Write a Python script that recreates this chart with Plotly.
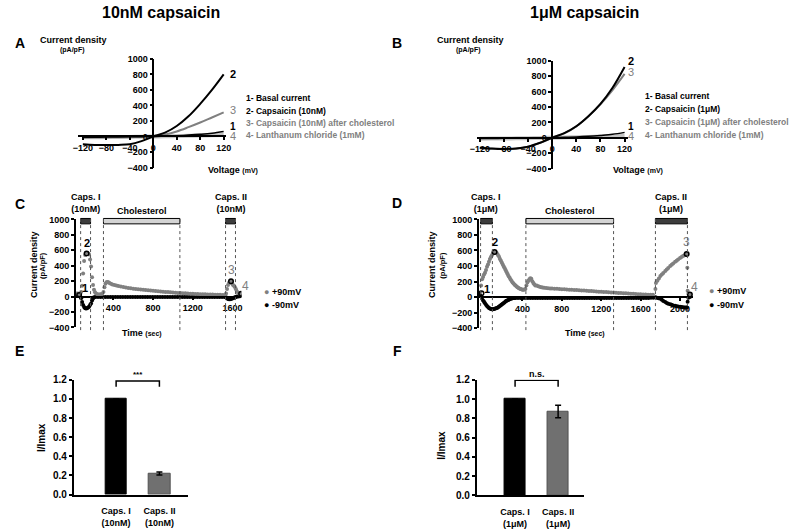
import plotly.graph_objects as go

W, H = 800, 529
FONT = "Liberation Sans, Arial, sans-serif"
GRAY = "#808080"

# ---------------- DATA ----------------
# I-V curves (panel A: 10 nM, panel B: 1 uM)
iv_voltage = [-120, -100, -80, -60, -40, -20, 0, 20, 40, 60, 80, 100, 120]
a_basal = [-10, -9, -8, -6, -4, -2, 0, 5, 10, 18, 28, 42, 65]
a_caps = [-100, -108, -110, -108, -100, -60, 0, 50, 135, 260, 420, 600, 800]
a_caps_chol = [-15, -14, -12, -10, -8, -5, 0, 25, 65, 120, 180, 245, 310]
a_lanth = [-10, -9, -8, -7, -5, -3, 0, 3, 6, 9, 12, 16, 20]

b_basal = [-10, -9, -8, -7, -5, -3, 0, 5, 10, 18, 30, 45, 70]
b_caps = [-130, -140, -145, -140, -115, -65, 0, 60, 150, 280, 440, 650, 920]
b_caps_chol = [-135, -143, -148, -142, -118, -66, 0, 58, 148, 278, 435, 620, 830]
b_lanth = [-12, -11, -10, -8, -6, -3, 0, 3, 7, 11, 16, 22, 30]

a_legend = ["1- Basal current", "2- Capsaicin (10nM)",
            "3- Capsaicin (10nM) after cholesterol", "4- Lanthanum chloride (1mM)"]
b_legend = ["1- Basal current", "2- Capsaicin (1\u03bcM)",
            "3- Capsaicin (1\u03bcM) after cholesterol", "4- Lanthanum chloride (1mM)"]

# Time courses (panel C: 10 nM)
c_pos_t = [30, 45, 60, 75, 85, 95, 105, 115, 125, 135, 145, 155, 165, 175, 185, 195, 205, 215, 225,
           240, 255, 270, 285,
           300, 310, 320, 330, 340, 350, 360,
           375, 390, 410, 430, 450,
           475, 500, 525, 550, 575, 600, 625, 650, 675, 700, 725, 750, 775, 800, 825, 850, 875, 900,
           925, 950, 975, 1000, 1025, 1050, 1075, 1100, 1125, 1150, 1175, 1200, 1225, 1250, 1275,
           1300, 1325, 1350, 1375, 1400, 1425, 1450, 1475, 1500,
           1520,
           1535, 1545, 1555, 1565, 1575, 1585, 1595, 1605, 1615, 1625, 1635, 1645,
           1660, 1675, 1690]
c_pos_v = [40, 40, 35, 60, 140, 300, 460, 540, 560, 565, 560, 545, 480, 390, 250, 150, 90, 55, 40,
           30, 28, 30, 35,
           60, 120, 165, 185, 190, 185, 175,
           165, 158, 150, 143, 137,
           130, 124, 118, 112, 107, 102, 98, 95, 91, 88, 85, 81, 78, 75, 72, 69, 66, 63,
           60, 58, 56, 54, 51, 48, 46, 44, 42, 40, 38, 36, 34, 33, 31,
           30, 29, 28, 27, 26, 25, 24, 23, 22,
           22,
           40, 100, 150, 180, 195, 200, 170, 150, 140, 120, 95, 65,
           45, 38, 35]
c_neg_t = [30, 45, 60, 75, 85, 95, 105, 115, 125, 135, 145, 155, 165, 175, 185, 195, 205, 220,
           245, 270, 295, 320, 345, 370, 395, 420, 445, 470,
           495, 520, 545, 570, 595, 620, 645, 670, 695, 720,
           745, 770, 795, 820, 845, 870, 895, 920, 945, 970,
           995, 1020, 1045, 1070, 1095, 1120, 1145, 1170, 1195, 1220,
           1245, 1270, 1295, 1320, 1345, 1370, 1395, 1420, 1445, 1470,
           1495, 1520,
           1535, 1545, 1555, 1565, 1575, 1585, 1595, 1605, 1615, 1625, 1635, 1645,
           1660, 1675, 1690]
c_neg_v = [30, 20, 10, -20, -70, -110, -135, -150, -155, -150, -140, -130, -110, -90, -50, -25, -10, -5,
           -5, -5, -6, -5, -5, -4, -5, -5, -6, -5,
           -5, -5, -4, -5, -5, -5, -6, -5, -5, -5,
           -4, -5, -5, -5, -5, -6, -5, -5, -4, -5,
           -5, -5, -5, -6, -5, -5, -4, -5, -5, -5,
           -5, -6, -5, -5, -4, -5, -5, -5, -5, -6,
           -5, -5,
           -10, -20, -30, -35, -35, -30, -25, -20, -15, -10, -5, 0,
           0, 5, 10]
c_marks_t = [55, 130, 1585, 1687]
c_marks_v = [20, 560, 200, 36]
c_caps1 = [70, 170]
c_chol = [300, 1070]
c_caps2 = [1530, 1630]

# Time courses (panel D: 1 uM)
d_pos_t = [-30, -20, -10, 0, 10, 20, 30, 40, 50, 60, 70, 80, 90, 100, 110, 120, 130, 140, 150, 160,
           170, 180, 190, 200, 210, 220, 230, 240, 250, 260, 270, 280, 290, 300, 310, 320, 330, 340,
           350, 360, 370, 380, 390, 400, 410, 420, 430, 440, 450, 460, 470, 480, 490, 500, 510, 520, 530,
           545, 560, 575, 590, 605, 620, 640, 660, 680, 700,
           725, 750, 775, 800, 825, 850, 875, 900, 925, 950, 975, 1000, 1025, 1050, 1075, 1100, 1125,
           1150, 1175, 1200, 1225, 1250, 1275, 1300, 1325, 1350, 1375, 1400, 1425, 1450, 1475, 1500,
           1525, 1550, 1575, 1600, 1625, 1650, 1675, 1700, 1725,
           1750, 1755, 1770, 1785, 1800, 1815, 1830, 1850, 1865, 1880, 1900, 1915, 1930, 1950, 1965,
           1980, 2000, 2015, 2030, 2045, 2060, 2067, 2074, 2077, 2085, 2100]
d_pos_v = [60, 150, 230, 260, 290, 315, 350, 390, 420, 455, 490, 515, 540, 560, 575, 580, 578, 565, 546, 525,
           495, 470, 445, 420, 395, 370, 345, 320, 294, 270, 248, 228, 208, 189, 174, 160, 148, 136,
           126, 118, 110, 104, 100, 96, 95, 98, 105, 150, 189, 210, 230, 243, 235, 205, 180, 165, 150,
           150, 140, 133, 128, 124, 120, 117, 114, 112, 110,
           108, 106, 104, 102, 100, 98, 96, 94, 92, 90, 88, 86, 84, 82, 79, 77, 75,
           72, 70, 68, 66, 64, 62, 60, 58, 56, 54, 52, 50, 48, 46, 44,
           42, 40, 38, 36, 34, 32, 31, 30, 29,
           105, 180, 209, 240, 273, 290, 310, 336, 355, 375, 399, 415, 432, 454, 468,
           485, 504, 515, 528, 540, 550, 555, 378, 83, 40, 33]
d_neg_t = [-30, -20, -10, 0, 10, 20, 30, 40, 50, 60, 70, 80, 90, 100, 110, 120, 130, 140, 150, 160,
           170, 180, 190, 200, 210, 220, 230, 240, 250, 260, 270, 280, 290, 300, 310, 320, 330,
           355, 380, 405, 430, 455, 480, 505, 530, 555, 580, 605, 630, 655, 680, 705, 730, 755, 780,
           805, 830, 855, 880, 905, 930, 955, 980, 1005, 1030, 1055, 1080, 1105, 1130, 1155, 1180,
           1205, 1230, 1255, 1280, 1305, 1330, 1355, 1380, 1405, 1430, 1455, 1480, 1505, 1530, 1555,
           1580, 1605, 1630, 1655, 1680, 1705, 1730,
           1750, 1765, 1780, 1800, 1815, 1830, 1850, 1865, 1880, 1900, 1915, 1930, 1950, 1965, 1980,
           2000, 2015, 2030, 2045, 2060, 2070, 2077, 2085, 2100]
d_neg_v = [20, 10, -10, -43, -60, -80, -100, -115, -128, -140, -148, -153, -156, -156, -154, -150, -145, -140, -134, -125,
           -115, -105, -95, -85, -75, -65, -55, -47, -40, -33, -27, -22, -18, -15, -13, -12, -11,
           -12, -12, -13, -12, -12, -13, -12, -12, -13, -12, -12, -12, -13, -12, -12, -13, -12, -12,
           -12, -13, -12, -12, -12, -13, -12, -12, -12, -13, -12, -12, -12, -13, -12, -12,
           -12, -13, -12, -12, -12, -12, -13, -12, -12, -12, -12, -13, -12, -12, -12,
           -12, -12, -12, -11, -11, -10, -10,
           -3, -10, -15, -21, -35, -50, -63, -75, -85, -93, -100, -107, -113, -118, -122,
           -126, -129, -131, -133, -134, -135, -60, -10, 0]
d_marks_t = [-16, 117, 2067, 2100]
d_marks_v = [50, 580, 555, 33]
d_caps1 = [-25, 95]
d_chol = [435, 1325]
d_caps2 = [1750, 2075]

mark_labels = ["1", "2", "3", "4"]

# Normalised peak currents (panels E and F)
e_cats = ["Caps. I<br>(10nM)", "Caps. II<br>(10nM)"]
e_vals = [1.0, 0.22]
e_err = [0.0, 0.015]
f_cats = ["Caps. I<br>(1\u03bcM)", "Caps. II<br>(1\u03bcM)"]
f_vals = [1.0, 0.87]
f_err = [0.0, 0.065]

assert len(c_pos_t) == len(c_pos_v) and len(c_neg_t) == len(c_neg_v)
assert len(d_pos_t) == len(d_pos_v) and len(d_neg_t) == len(d_neg_v)


# ---------------- helpers ----------------
def px(x):
    return x / W


def py(y):
    return 1 - y / H


def dpos(v, rng, dom):
    return dom[0] + (v - rng[0]) / (rng[1] - rng[0]) * (dom[1] - dom[0])


fig = go.Figure()
ann = []
shapes = []


def text(t, x, y, size=9, color="black", bold=True, xanchor="center", angle=0, xref="paper", yref="paper",
         xshift=0, yshift=0):
    ann.append(dict(text=t, x=x, y=y, xref=xref, yref=yref, showarrow=False, xanchor=xanchor,
                    yanchor="middle", textangle=angle, xshift=xshift, yshift=yshift, borderpad=0,
                    font=dict(family=FONT, size=size, color=color, weight="bold" if bold else "normal")))


axis_common = dict(showline=True, linecolor="black", linewidth=1.5, ticks="outside", ticklen=3,
                   tickwidth=1.5, tickcolor="black", showgrid=False, zeroline=False,
                   tickfont=dict(family=FONT, size=9, color="black", weight="bold"))

# ---------------- Panels A & B (I-V) ----------------
iv_panels = [
    dict(xa="x", ya="y", xdom=[px(72), px(222)], xr=[-128.4, 123.4], ydom=[py(166), py(55)],
         curves=[a_basal, a_caps, a_caps_chol, a_lanth], legend=a_legend, leg_x=242, leg_y=[95, 108, 120.5, 133],
         lab_shift=[(8, 5), (8, 0), (8, 2), (8, -1)]),
    dict(xa="x2", ya="y2", xdom=[px(476.7), px(630)], xr=[-125.4, 124.9], ydom=[py(167), py(57)],
         curves=[b_basal, b_caps, b_caps_chol, b_lanth], legend=b_legend, leg_x=647, leg_y=[93.3, 106.7, 119.3, 132.3],
         lab_shift=[(5, 6), (5, 6), (5, 2), (5, -1)]),
]
iv_styles = [dict(color="black", width=1.5), dict(color="black", width=2),
             dict(color=GRAY, width=2), dict(color="#c4c4c4", width=4)]
label_fonts = [(10, "black", True), (11, "black", True), (11, GRAY, False), (11, GRAY, False)]
for i, p in enumerate(iv_panels):
    yr = [-400, 1000]
    for k in [3, 2, 0, 1]:
        fig.add_trace(go.Scatter(x=iv_voltage, y=p["curves"][k], mode="lines", line=dict(shape="spline", **iv_styles[k]),
                                 xaxis=p["xa"], yaxis=p["ya"], hoverinfo="skip"))
    for k in range(4):
        sz, col, b = label_fonts[k]
        text(mark_labels[k], iv_voltage[-1], p["curves"][k][-1], size=sz, color=col, bold=b, xanchor="left",
             xref=p["xa"], yref=p["ya"], xshift=p["lab_shift"][k][0] - 3, yshift=p["lab_shift"][k][1])
        text(p["legend"][k], px(p["leg_x"]), py(p["leg_y"][k]), size=8.5, color="black" if k < 2 else GRAY,
             xanchor="left")
    xkey = "xaxis" if i == 0 else "xaxis2"
    ykey = "yaxis" if i == 0 else "yaxis2"
    fig.update_layout(**{
        xkey: dict(axis_common, domain=p["xdom"], range=p["xr"], anchor="free",
                   position=dpos(0, yr, p["ydom"]), tickvals=[-120, -80, -40, 0, 40, 80, 120]),
        ykey: dict(axis_common, domain=p["ydom"], range=yr, anchor="free",
                   position=dpos(0, p["xr"], p["xdom"]), tickvals=list(range(-400, 1001, 200))),
    })

text("Current density", px(68), py(36), size=9)
text("(pA/pF)", px(67), py(46), size=7)
text("Current density", px(470.5), py(36), size=9)
text("(pA/pF)", px(469), py(46), size=7)
text("Voltage <span style='font-size:7px'>(mV)</span>", px(229), py(168), size=9)
text("Voltage <span style='font-size:7px'>(mV)</span>", px(640.7), py(168), size=9)

# ---------------- Panels C & D (time course) ----------------
tc_panels = [
    dict(xa="x3", ya="y3", xdom=[px(70), px(238)], xr=[22.8, 1690], ydom=[py(329.3), py(219)],
         pos=(c_pos_t, c_pos_v), neg=(c_neg_t, c_neg_v), marks=(c_marks_t, c_marks_v),
         caps1=c_caps1, chol=c_chol, caps2=c_caps2, conc="10nM",
         mshift=[(6, 7), (0, 10), (0, 11), (4, 8)], leg_x=263, leg_y=[293, 306],
         ytitle_x=[28, 36], time_x=137, ticks=[400, 800, 1200, 1600]),
    dict(xa="x4", ya="y4", xdom=[px(479), px(696.7)], xr=[-43, 2134], ydom=[py(330), py(219)],
         pos=(d_pos_t, d_pos_v), neg=(d_neg_t, d_neg_v), marks=(d_marks_t, d_marks_v),
         caps1=d_caps1, chol=d_chol, caps2=d_caps2, conc="1\u03bcM",
         mshift=[(6, 4), (0, 10), (0, 12), (5, 8)], leg_x=715, leg_y=[292, 306.5],
         ytitle_x=[432, 442], time_x=587, ticks=[400, 800, 1200, 1600, 2000]),
]
for i, p in enumerate(tc_panels):
    yr = [-400, 1000]
    fig.add_trace(go.Scatter(x=p["neg"][0], y=p["neg"][1], mode="markers",
                             marker=dict(size=4, color="black"), xaxis=p["xa"], yaxis=p["ya"], hoverinfo="skip"))
    fig.add_trace(go.Scatter(x=p["pos"][0], y=p["pos"][1], mode="markers",
                             marker=dict(size=4, color=GRAY), xaxis=p["xa"], yaxis=p["ya"], hoverinfo="skip"))
    fig.add_trace(go.Scatter(x=p["marks"][0], y=p["marks"][1], mode="markers",
                             marker=dict(size=4.5, color="rgba(0,0,0,0)", symbol="circle",
                                         line=dict(color="black", width=1.5)),
                             xaxis=p["xa"], yaxis=p["ya"], hoverinfo="skip"))
    for k in range(4):
        col = "black" if k < 2 else GRAY
        text(mark_labels[k], p["marks"][0][k], p["marks"][1][k], size=11 if k < 2 else 12, color=col,
             bold=k < 2, xref=p["xa"], yref=p["ya"], xshift=p["mshift"][k][0], yshift=p["mshift"][k][1])
    # treatment bars and dotted guide lines
    for (t0, t1), fill in [(p["caps1"], "#3c3c3c"), (p["chol"], "#d4d4d4"), (p["caps2"], "#3c3c3c")]:
        shapes.append(dict(type="rect", xref=p["xa"], yref="paper", x0=t0, x1=t1, y0=py(223.5), y1=py(218),
                           fillcolor=fill, line=dict(color="black", width=1)))
        for t in (t0, t1):
            shapes.append(dict(type="line", xref=p["xa"], yref="paper", x0=t, x1=t, y0=py(332), y1=py(218),
                               line=dict(color="#555555", width=1, dash="dot")))
    text("Caps. I<br>(" + p["conc"] + ")", sum(p["caps1"]) / 2, py(202), size=9, xref=p["xa"])
    text("Cholesterol", sum(p["chol"]) / 2, py(210), size=9, xref=p["xa"])
    text("Caps. II<br>(" + p["conc"] + ")", sum(p["caps2"]) / 2, py(202), size=9, xref=p["xa"])
    # legend
    text("<span style='color:%s'>\u25cf</span> +90mV" % GRAY, px(p["leg_x"] - 3), py(p["leg_y"][0]), size=9,
         xanchor="left")
    text("\u25cf -90mV", px(p["leg_x"] - 3), py(p["leg_y"][1]), size=9, xanchor="left")
    text("Current density", px(p["ytitle_x"][0]), py(265), size=9, angle=-90)
    text("(pA/pF)", px(p["ytitle_x"][1]), py(266), size=7.5, angle=-90)
    text("Time <span style='font-size:7px'>(sec)</span>", px(p["time_x"]), py(335), size=9)
    xkey = "xaxis3" if i == 0 else "xaxis4"
    ykey = "yaxis3" if i == 0 else "yaxis4"
    fig.update_layout(**{
        xkey: dict(axis_common, domain=p["xdom"], range=p["xr"], anchor="free",
                   position=dpos(0, yr, p["ydom"]), tickvals=p["ticks"]),
        ykey: dict(axis_common, domain=p["ydom"], range=yr, anchor=p["xa"],
                   tickvals=list(range(-400, 1001, 200))),
    })

# ---------------- Panels E & F (bar charts) ----------------
bar_panels = [
    dict(xa="x5", ya="y5", xdom=[px(67.7), px(183.3)], xr=[-0.98, 1.65], ydom=[py(500), py(382.7)],
         cats=e_cats, vals=e_vals, err=e_err, sig="***", ytitle_x=35, ytitle_y=441.7,
         br_top=1.187, br_bot=1.126, sig_y=377, sig_size=8),
    dict(xa="x6", ya="y6", xdom=[px(476.7), px(586)], xr=[-0.895, 1.606], ydom=[py(500.7), py(382.7)],
         cats=f_cats, vals=f_vals, err=f_err, sig="n.s.", ytitle_x=441.7, ytitle_y=450,
         br_top=1.194, br_bot=1.126, sig_y=376.7, sig_size=9),
]
for i, p in enumerate(bar_panels):
    fig.add_trace(go.Bar(x=[0, 1], y=p["vals"], width=0.5,
                         marker=dict(color=["black", "#707070"], line=dict(color=["black", "#505050"], width=1)),
                         error_y=dict(type="data", array=p["err"], color="black", thickness=1.5, width=3,
                                      visible=True),
                         xaxis=p["xa"], yaxis=p["ya"], hoverinfo="skip"))
    shapes.append(dict(type="path", xref=p["xa"], yref=p["ya"],
                       path="M 0,%g L 0,%g L 1,%g L 1,%g" % (p["br_bot"], p["br_top"], p["br_top"], p["br_bot"]),
                       line=dict(color="black", width=1.5)))
    text(p["sig"], 0.5, py(p["sig_y"]), size=p["sig_size"], xref=p["xa"], yref="paper")
    text("I/Imax", px(p["ytitle_x"]), py(p["ytitle_y"]), size=10, angle=-90)
    xkey = "xaxis5" if i == 0 else "xaxis6"
    ykey = "yaxis5" if i == 0 else "yaxis6"
    fig.update_layout(**{
        xkey: dict(axis_common, domain=p["xdom"], range=p["xr"], anchor=p["ya"], ticks="",
                   tickvals=[0, 1], ticktext=p["cats"], ticklabelstandoff=7),
        ykey: dict(axis_common, domain=p["ydom"], range=[0, 1.2], anchor=p["xa"],
                   tickvals=[0, 0.2, 0.4, 0.6, 0.8, 1.0, 1.2], tickformat=".1f",
                   tickfont=dict(family=FONT, size=10, color="black", weight="bold")),
    })

# ---------------- titles & panel letters ----------------
text("10nM capsaicin", px(156), py(7.5), size=16)
text("1\u03bcM capsaicin", px(586), py(7.5), size=16)
for letter, x, y in [("A", 13, 39), ("B", 396, 39), ("C", 13, 203), ("D", 396, 202), ("E", 13, 353),
                     ("F", 396, 353)]:
    text(letter, px(x), py(y), size=14)

fig.update_layout(width=W, height=H, margin=dict(l=0, r=0, t=0, b=0), paper_bgcolor="white",
                  plot_bgcolor="rgba(0,0,0,0)", showlegend=False, annotations=ann, shapes=shapes,
                  font=dict(family=FONT, color="black"), bargap=0)
fig.write_html("out.html")
